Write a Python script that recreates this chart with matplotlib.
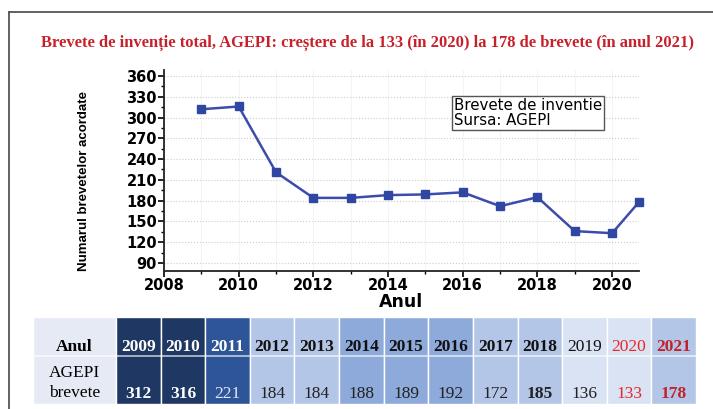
import numpy as np
import matplotlib.pyplot as plt
from matplotlib.patches import Rectangle
from matplotlib.lines import Line2D
from matplotlib.ticker import MultipleLocator

# data
years = [2009, 2010, 2011, 2012, 2013, 2014, 2015, 2016, 2017, 2018, 2019, 2020, 2021]
patents = [312, 316, 221, 184, 184, 188, 189, 192, 172, 185, 136, 133, 178]
title = 'Brevete de invenție total, AGEPI: creștere de la 133 (în 2020) la 178 de brevete (în anul 2021)'
legend_lines = ['Brevete de inventie', 'Sursa: AGEPI']
row_labels = ['Anul', 'AGEPI\nbrevete']

# table styles per column
navy, mid, blue2, light, pale = '#1f3763', '#2d5597', '#8eaadb', '#b4c6e7', '#dae3f3'
cell_fill = [navy, navy, mid, light, light, blue2, blue2, blue2, light, light, pale, pale, light]
head_col = ['white'] * 3 + ['#111111'] * 8 + ['#e8262b', '#c0212a']
head_wt = ['bold'] * 10 + ['normal', 'normal', 'bold']
val_col = ['white', 'white', '#dfe6f5'] + ['#222222'] * 8 + ['#e8262b', '#c0212a']
val_wt = ['bold', 'bold'] + ['normal'] * 7 + ['bold', 'normal', 'normal', 'bold']

fig = plt.figure(figsize=(7.13, 4.09), dpi=100)
W, H = 713, 409

# outer frame (left and top edges)
fig.add_artist(Line2D([9 / W, 9 / W], [0, 1 - 12 / H], color='#555555', lw=1.3))
fig.add_artist(Line2D([9 / W, 1], [1 - 12 / H, 1 - 12 / H], color='#555555', lw=1.3))

fig.text(0.515, 1 - 43 / H, title, ha='center', va='center', color='#c8202a',
         fontsize=11.9, fontweight='bold', family='Liberation Serif')

ax = fig.add_axes([164 / W, 1 - 271 / H, (639 - 164) / W, (271 - 70) / H])
xmax = 2020.72
xpos = np.minimum(years, xmax)
ax.plot(xpos, patents, color='#3b4cad', lw=1.8, marker='s', ms=5.5,
        mfc='#2f47a3', mec='#2f47a3', clip_on=False, zorder=3)
ax.set_xlim(2008, xmax)
ax.set_ylim(78.4, 368.7)
ax.xaxis.set_major_locator(MultipleLocator(2))
ax.xaxis.set_minor_locator(MultipleLocator(1))
ax.yaxis.set_minor_locator(MultipleLocator(15))
ax.set_yticks(np.arange(90, 361, 30))
for s in ['top', 'right']:
    ax.spines[s].set_visible(False)
for s in ['left', 'bottom']:
    ax.spines[s].set_linewidth(1.3)
    ax.spines[s].set_color('#222222')
ax.tick_params(which='major', length=4, width=1.2, labelsize=10.5, pad=1)
ax.tick_params(which='minor', length=2.5, width=1.0)
for lab in ax.get_xticklabels() + ax.get_yticklabels():
    lab.set_fontweight('bold')
ax.grid(axis='y', which='major', color='#cccccc', ls=':', lw=0.8)
ax.grid(axis='x', which='both', color='#f2f2f2', ls='-', lw=0.6)
ax.set_xlabel('Anul', fontsize=12.5, fontweight='bold', labelpad=0)
ax.set_ylabel('Numarul brevetelor acordate', fontsize=9.5, fontweight='bold',
              family='Liberation Sans')
ax.yaxis.set_label_coords(-0.156, 0.45)

ax.text(0.61, 0.786, '\n'.join(legend_lines), transform=ax.transAxes, fontsize=10.8,
        va='center', ha='left', linespacing=0.95,
        bbox=dict(boxstyle='square,pad=0.15', fc='white', ec='#555555', lw=1.0))

# table below the chart
tx = fig.add_axes([33 / W, 1 - 404 / H, (696 - 33) / W, (404 - 317) / H])
lab_w = 1.86
tx.set_xlim(0, lab_w + len(years))
tx.set_ylim(0, 87)
tx.axis('off')
row_split = 48
tx.add_patch(Rectangle((0, 0), lab_w, 87, fc='#e6eaf4', ec='white', lw=1))
tx.text(lab_w / 2, 57, row_labels[0], ha='center', va='center', fontsize=12.5,
        fontweight='bold', family='Liberation Serif')
tx.text(lab_w / 2, 21, row_labels[1], ha='center', va='center', fontsize=12.5,
        family='Liberation Serif', linespacing=1.3)
for i, (yr, v) in enumerate(zip(years, patents)):
    x0 = lab_w + i
    tx.add_patch(Rectangle((x0, 0), 1, 87, fc=cell_fill[i], ec='white', lw=1))
    tx.text(x0 + 0.5, 57, str(yr), ha='center', va='center', fontsize=12.5,
            fontweight=head_wt[i], color=head_col[i], family='Liberation Serif')
    tx.text(x0 + 0.5, 10, str(v), ha='center', va='center', fontsize=12.5,
            fontweight=val_wt[i], color=val_col[i], family='Liberation Serif')
tx.add_line(Line2D([0, lab_w + len(years)], [row_split, row_split], color='white', lw=1.2, alpha=0.7))

fig.savefig('out.png', dpi=100)
